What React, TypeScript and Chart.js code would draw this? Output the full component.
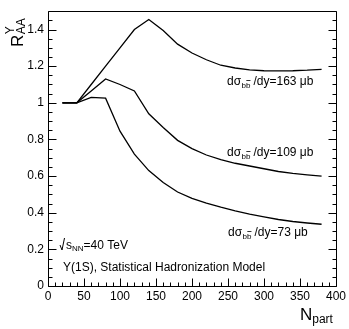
import React, { useEffect, useRef } from "react";
import { Chart, registerables } from "chart.js";

Chart.register(...registerables);

const FONT = "'Liberation Sans', Arial, Helvetica, sans-serif";

// Number of participants (x)
const nPart = [20, 40, 60, 80, 100, 120, 140, 160, 180, 200, 220, 240, 260, 280, 300, 320, 340, 360, 380];
// R_AA for the three b-bbar cross sections
const r163 = [1, 1, 1.1, 1.2, 1.3, 1.4, 1.455, 1.395, 1.32, 1.272, 1.235, 1.205, 1.19, 1.18, 1.175, 1.174, 1.175, 1.178, 1.183];
const r109 = [1, 1, 1.065, 1.13, 1.1, 1.065, 0.94, 0.865, 0.795, 0.75, 0.715, 0.69, 0.67, 0.655, 0.64, 0.625, 0.615, 0.607, 0.6];
const r73 = [1, 1, 1.03, 1.025, 0.845, 0.72, 0.63, 0.565, 0.513, 0.478, 0.452, 0.43, 0.41, 0.392, 0.377, 0.363, 0.352, 0.344, 0.337];
const crossSections = ["163", "109", "73"];
const yTickValues = [0, 0.2, 0.4, 0.6, 0.8, 1, 1.2, 1.4];

function sigmaLabel(ctx: CanvasRenderingContext2D, x: number, y: number, val: string) {
  ctx.font = `12px ${FONT}`;
  ctx.fillText("d\u03c3", x, y);
  let cx = x + ctx.measureText("d\u03c3").width + 0.5;
  ctx.font = `8px ${FONT}`;
  const bw = ctx.measureText("b").width;
  ctx.fillText("bb", cx, y + 3);
  ctx.beginPath();
  ctx.lineWidth = 0.8;
  ctx.moveTo(cx + bw + 0.3, y - 4.5);
  ctx.lineTo(cx + 2 * bw, y - 4.5);
  ctx.stroke();
  cx += 2 * bw + 3;
  ctx.font = `12px ${FONT}`;
  ctx.fillText(`/dy=${val} \u03bcb`, cx, y);
}

const overlay = {
  id: "overlay",
  afterDraw(chart: any) {
    const ctx: CanvasRenderingContext2D = chart.ctx;
    const { left, right, top, bottom } = chart.chartArea;
    const xs = chart.scales.x;
    const ys = chart.scales.y;
    ctx.save();
    ctx.strokeStyle = "#000";
    ctx.fillStyle = "#000";
    ctx.lineWidth = 1;
    const L = Math.round(left) + 0.5;
    const R = Math.round(right) + 0.5;
    const T = Math.round(top) + 0.5;
    const B = Math.round(bottom) + 0.5;
    ctx.beginPath();
    ctx.rect(L, T, R - L, B - T);
    ctx.stroke();
    // x ticks (inward)
    ctx.beginPath();
    for (let v = 0; v <= 400; v += 10) {
      const px = Math.round(xs.getPixelForValue(v)) + 0.5;
      const len = v % 50 === 0 ? 8 : 4;
      ctx.moveTo(px, B);
      ctx.lineTo(px, B - len);
    }
    // y ticks left and right
    for (let i = 0; i <= 30; i++) {
      const v = i * 0.05;
      const py = Math.round(ys.getPixelForValue(v)) + 0.5;
      const len = i % 4 === 0 ? 8 : 4;
      ctx.moveTo(L, py);
      ctx.lineTo(L + len, py);
      ctx.moveTo(R, py);
      ctx.lineTo(R - len, py);
    }
    ctx.stroke();

    // curve labels
    ctx.textBaseline = "alphabetic";
    ctx.textAlign = "left";
    sigmaLabel(ctx, 227, 85, crossSections[0]);
    sigmaLabel(ctx, 227, 156, crossSections[1]);
    sigmaLabel(ctx, 228, 236, crossSections[2]);

    // sqrt(s_NN)
    ctx.lineWidth = 1;
    ctx.beginPath();
    ctx.moveTo(60, 245);
    ctx.lineTo(62, 250);
    ctx.lineTo(64.5, 238);
    ctx.stroke();
    ctx.font = `12px ${FONT}`;
    ctx.fillText("s", 66, 249);
    let sx = 66 + ctx.measureText("s").width;
    ctx.font = `8px ${FONT}`;
    ctx.fillText("NN", sx, 251);
    sx += ctx.measureText("NN").width;
    ctx.font = `12px ${FONT}`;
    ctx.fillText("=40 TeV", sx, 249);

    ctx.fillText("\u03a5(1S), Statistical Hadronization Model", 63, 271);

    // x title
    ctx.font = `17px ${FONT}`;
    ctx.fillText("N", 300, 320);
    const nw = ctx.measureText("N").width;
    ctx.font = `12px ${FONT}`;
    ctx.fillText("part", 300 + nw, 323);

    // y title rotated
    ctx.save();
    ctx.translate(23, 47);
    ctx.rotate(-Math.PI / 2);
    ctx.font = `17px ${FONT}`;
    ctx.fillText("R", 0, 0);
    const rw = ctx.measureText("R").width;
    ctx.font = `12px ${FONT}`;
    ctx.fillText("AA", rw + 0.5, 2);
    ctx.fillText("\u03a5", rw + 0.5, -9);
    ctx.restore();

    ctx.restore();
  },
};

export default function App() {
  const ref = useRef<HTMLCanvasElement | null>(null);
  useEffect(() => {
    if (!ref.current) return;
    const mk = (ys: number[]) => nPart.map((x, i) => ({ x, y: ys[i] }));
    const ds = (label: string, ys: number[]) => ({
      label,
      data: mk(ys),
      borderColor: "#000",
      borderWidth: 1.3,
      pointRadius: 0,
      tension: 0,
      fill: false,
    });
    const chart = new Chart(ref.current, {
      type: "line",
      data: {
        datasets: [ds(crossSections[0], r163), ds(crossSections[1], r109), ds(crossSections[2], r73)],
      },
      options: {
        animation: false,
        responsive: false,
        maintainAspectRatio: false,
        layout: { padding: { top: 10, right: 13, left: 0, bottom: 0 } },
        plugins: { legend: { display: false }, tooltip: { enabled: false } },
        scales: {
          x: {
            type: "linear",
            min: 0,
            max: 400,
            grid: { display: false, drawTicks: false },
            border: { display: false },
            ticks: {
              stepSize: 50,
              autoSkip: false,
              maxRotation: 0,
              padding: 3,
              color: "#000",
              font: { family: FONT, size: 12 },
            },
            afterFit: (s: any) => {
              s.height = 43;
            },
          },
          y: {
            type: "linear",
            min: 0,
            max: 1.5,
            grid: { display: false, drawTicks: false },
            border: { display: false },
            afterBuildTicks: (s: any) => {
              s.ticks = yTickValues.map((v) => ({ value: v }));
            },
            ticks: {
              padding: 4,
              color: "#000",
              font: { family: FONT, size: 12 },
              callback: (v: any) => String(Math.round(Number(v) * 10) / 10),
            },
            afterFit: (s: any) => {
              s.width = 48;
            },
          },
        },
      },
      plugins: [overlay],
    });
    return () => chart.destroy();
  }, []);
  return (
    <div style={{ position: "fixed", left: 0, top: 0, width: 349, height: 329, background: "#fff" }}>
      <canvas ref={ref} width={349} height={329} style={{ display: "block" }} />
    </div>
  );
}
